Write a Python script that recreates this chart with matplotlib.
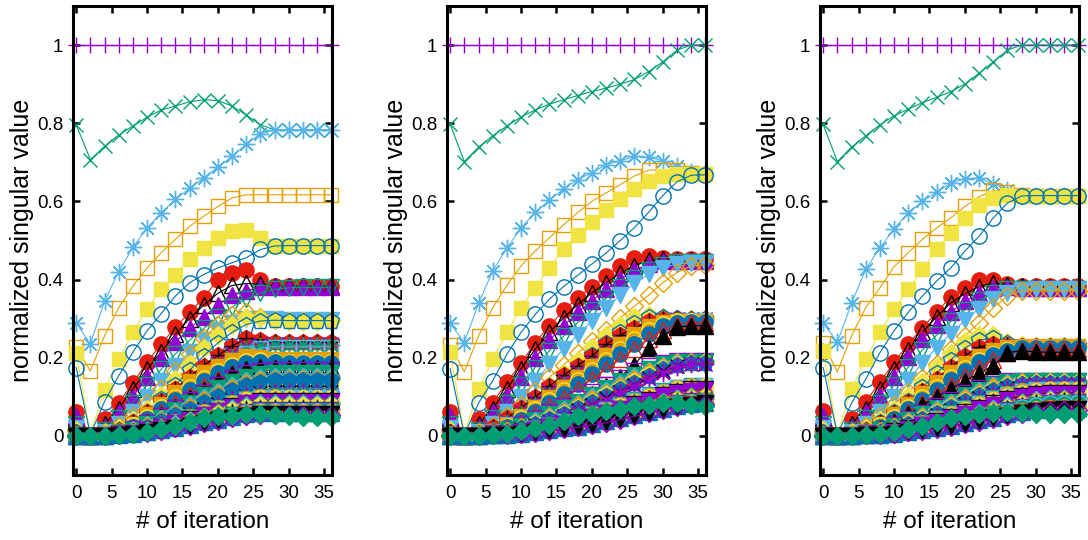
import matplotlib
matplotlib.use("Agg")
import matplotlib.pyplot as plt

plt.rcParams["font.family"] = ["Liberation Sans", "DejaVu Sans"]

# iteration index of every sample (one sample every 2 iterations)
iters = [0, 2, 4, 6, 8, 10, 12, 14, 16, 18, 20, 22, 24, 26, 28, 30, 32, 34, 36]

# normalized singular values, one row per singular value, left run
sv_left = [
    [1.0, 1.0, 1.0, 1.0, 1.0, 1.0, 1.0, 1.0, 1.0, 1.0, 1.0, 1.0, 1.0, 1.0, 1.0, 1.0, 1.0, 1.0, 1.0],
    [0.796, 0.707, 0.741, 0.770, 0.793, 0.815, 0.834, 0.844, 0.855, 0.860, 0.858, 0.844, 0.821, 0.796, 0.783, 0.783, 0.783, 0.783, 0.783],
    [0.290, 0.235, 0.345, 0.420, 0.483, 0.532, 0.571, 0.605, 0.634, 0.660, 0.688, 0.715, 0.747, 0.773, 0.783, 0.783, 0.783, 0.783, 0.783],
    [0.228, 0.166, 0.256, 0.328, 0.383, 0.430, 0.469, 0.503, 0.536, 0.562, 0.587, 0.609, 0.617, 0.617, 0.617, 0.617, 0.617, 0.617, 0.617],
    [0.212, 0.005, 0.118, 0.196, 0.265, 0.325, 0.375, 0.413, 0.452, 0.481, 0.507, 0.524, 0.528, 0.507, 0.487, 0.487, 0.487, 0.487, 0.487],
    [0.175, 0.003, 0.088, 0.154, 0.214, 0.269, 0.313, 0.358, 0.392, 0.413, 0.430, 0.443, 0.456, 0.477, 0.486, 0.487, 0.487, 0.487, 0.487],
    [0.062, 0.002, 0.043, 0.085, 0.135, 0.189, 0.235, 0.278, 0.316, 0.354, 0.400, 0.417, 0.425, 0.400, 0.384, 0.383, 0.383, 0.383, 0.383],
    [0.045, 0.001, 0.030, 0.070, 0.120, 0.170, 0.215, 0.260, 0.300, 0.335, 0.365, 0.385, 0.390, 0.388, 0.384, 0.383, 0.383, 0.383, 0.383],
    [0.050, 0.001, 0.022, 0.060, 0.100, 0.150, 0.200, 0.240, 0.275, 0.305, 0.335, 0.360, 0.372, 0.380, 0.381, 0.381, 0.381, 0.381, 0.381],
    [0.030, 0.001, 0.015, 0.045, 0.085, 0.130, 0.170, 0.210, 0.245, 0.275, 0.305, 0.330, 0.350, 0.365, 0.375, 0.379, 0.380, 0.380, 0.380],
    [0.020, 0.001, 0.010, 0.030, 0.060, 0.100, 0.140, 0.180, 0.215, 0.245, 0.270, 0.290, 0.300, 0.300, 0.298, 0.297, 0.297, 0.297, 0.297],
    [0.012, 0.0, 0.010, 0.025, 0.050, 0.085, 0.120, 0.165, 0.210, 0.250, 0.285, 0.310, 0.318, 0.305, 0.296, 0.295, 0.295, 0.295, 0.295],
    [0.015, 0.0, 0.008, 0.020, 0.042, 0.070, 0.105, 0.145, 0.185, 0.225, 0.258, 0.285, 0.305, 0.302, 0.296, 0.295, 0.295, 0.295, 0.295],
    [0.010, 0.0, 0.006, 0.016, 0.035, 0.062, 0.095, 0.130, 0.168, 0.205, 0.238, 0.265, 0.285, 0.294, 0.296, 0.295, 0.295, 0.295, 0.295],
    [0.008, 0.0, 0.006, 0.016, 0.035, 0.060, 0.090, 0.120, 0.152, 0.180, 0.206, 0.230, 0.250, 0.246, 0.241, 0.240, 0.240, 0.240, 0.240],
    [0.008, 0.0, 0.006, 0.016, 0.035, 0.060, 0.090, 0.120, 0.152, 0.180, 0.206, 0.230, 0.250, 0.246, 0.241, 0.240, 0.240, 0.240, 0.240],
    [0.006, 0.0, 0.005, 0.014, 0.030, 0.053, 0.080, 0.108, 0.137, 0.165, 0.190, 0.213, 0.230, 0.236, 0.236, 0.235, 0.235, 0.235, 0.235],
    [0.005, 0.0, 0.004, 0.012, 0.027, 0.048, 0.073, 0.100, 0.128, 0.155, 0.180, 0.203, 0.222, 0.231, 0.232, 0.232, 0.232, 0.232, 0.232],
    [0.005, 0.0, 0.004, 0.011, 0.025, 0.045, 0.068, 0.094, 0.120, 0.146, 0.170, 0.193, 0.212, 0.225, 0.228, 0.228, 0.228, 0.228, 0.228],
    [0.005, 0.0, 0.004, 0.012, 0.030, 0.055, 0.082, 0.112, 0.140, 0.163, 0.180, 0.194, 0.204, 0.201, 0.198, 0.198, 0.198, 0.198, 0.198],
    [0.004, 0.0, 0.004, 0.011, 0.027, 0.049, 0.074, 0.100, 0.125, 0.148, 0.167, 0.182, 0.192, 0.193, 0.191, 0.190, 0.190, 0.190, 0.190],
    [0.004, 0.0, 0.003, 0.010, 0.024, 0.044, 0.068, 0.093, 0.117, 0.140, 0.160, 0.176, 0.187, 0.190, 0.188, 0.187, 0.187, 0.187, 0.187],
    [0.003, 0.0, 0.003, 0.009, 0.021, 0.039, 0.060, 0.083, 0.105, 0.127, 0.146, 0.161, 0.172, 0.176, 0.175, 0.175, 0.175, 0.175, 0.175],
    [0.003, 0.0, 0.003, 0.008, 0.019, 0.035, 0.054, 0.075, 0.096, 0.118, 0.140, 0.158, 0.172, 0.176, 0.174, 0.173, 0.173, 0.173, 0.173],
    [0.003, 0.0, 0.003, 0.008, 0.018, 0.033, 0.051, 0.071, 0.091, 0.111, 0.130, 0.147, 0.160, 0.167, 0.168, 0.168, 0.168, 0.168, 0.168],
    [0.002, 0.0, 0.002, 0.007, 0.016, 0.030, 0.047, 0.066, 0.085, 0.104, 0.122, 0.138, 0.151, 0.158, 0.160, 0.160, 0.160, 0.160, 0.160],
    [0.002, 0.0, 0.002, 0.006, 0.014, 0.027, 0.043, 0.060, 0.078, 0.096, 0.113, 0.128, 0.141, 0.148, 0.150, 0.150, 0.150, 0.150, 0.150],
    [0.002, 0.0, 0.002, 0.006, 0.013, 0.025, 0.040, 0.057, 0.074, 0.091, 0.107, 0.122, 0.135, 0.143, 0.145, 0.145, 0.145, 0.145, 0.145],
    [0.002, 0.0, 0.002, 0.005, 0.012, 0.022, 0.035, 0.050, 0.066, 0.081, 0.096, 0.110, 0.121, 0.128, 0.130, 0.130, 0.130, 0.130, 0.130],
    [0.002, 0.0, 0.002, 0.005, 0.012, 0.023, 0.037, 0.053, 0.070, 0.087, 0.103, 0.118, 0.131, 0.139, 0.142, 0.142, 0.142, 0.142, 0.142],
    [0.001, 0.0, 0.001, 0.004, 0.010, 0.019, 0.030, 0.043, 0.057, 0.071, 0.084, 0.097, 0.107, 0.113, 0.115, 0.115, 0.115, 0.115, 0.115],
    [0.001, 0.0, 0.001, 0.004, 0.009, 0.018, 0.029, 0.042, 0.055, 0.068, 0.081, 0.093, 0.103, 0.109, 0.112, 0.112, 0.112, 0.112, 0.112],
    [0.001, 0.0, 0.001, 0.004, 0.009, 0.017, 0.028, 0.040, 0.053, 0.066, 0.079, 0.091, 0.101, 0.107, 0.110, 0.110, 0.110, 0.110, 0.110],
    [0.001, 0.0, 0.001, 0.003, 0.008, 0.016, 0.026, 0.038, 0.050, 0.062, 0.074, 0.086, 0.096, 0.102, 0.105, 0.105, 0.105, 0.105, 0.105],
    [0.0, 0.0, 0.001, 0.004, 0.009, 0.016, 0.025, 0.036, 0.048, 0.060, 0.072, 0.084, 0.094, 0.100, 0.100, 0.100, 0.100, 0.100, 0.100],
    [0.0, 0.0, 0.001, 0.004, 0.009, 0.016, 0.025, 0.036, 0.048, 0.060, 0.072, 0.084, 0.094, 0.100, 0.099, 0.098, 0.098, 0.098, 0.098],
    [0.0, 0.0, 0.001, 0.004, 0.009, 0.016, 0.024, 0.035, 0.047, 0.058, 0.070, 0.081, 0.091, 0.097, 0.097, 0.097, 0.097, 0.097, 0.097],
    [0.0, 0.0, 0.001, 0.004, 0.008, 0.015, 0.024, 0.034, 0.045, 0.056, 0.068, 0.079, 0.088, 0.094, 0.094, 0.094, 0.094, 0.094, 0.094],
    [0.0, 0.0, 0.001, 0.004, 0.008, 0.015, 0.023, 0.033, 0.044, 0.055, 0.066, 0.077, 0.086, 0.092, 0.092, 0.092, 0.092, 0.092, 0.092],
    [0.0, 0.0, 0.001, 0.004, 0.008, 0.014, 0.023, 0.032, 0.043, 0.054, 0.065, 0.076, 0.085, 0.090, 0.090, 0.090, 0.090, 0.090, 0.090],
    [0.0, 0.0, 0.001, 0.004, 0.008, 0.014, 0.022, 0.032, 0.042, 0.053, 0.063, 0.074, 0.083, 0.088, 0.088, 0.088, 0.088, 0.088, 0.088],
    [0.0, 0.0, 0.001, 0.003, 0.008, 0.014, 0.021, 0.031, 0.041, 0.051, 0.061, 0.071, 0.080, 0.085, 0.085, 0.085, 0.085, 0.085, 0.085],
    [0.0, 0.0, 0.001, 0.003, 0.007, 0.013, 0.021, 0.030, 0.039, 0.049, 0.059, 0.069, 0.077, 0.082, 0.082, 0.082, 0.082, 0.082, 0.082],
    [0.0, 0.0, 0.001, 0.003, 0.007, 0.013, 0.020, 0.029, 0.038, 0.048, 0.058, 0.067, 0.075, 0.080, 0.080, 0.080, 0.080, 0.080, 0.080],
    [0.0, 0.0, 0.001, 0.003, 0.007, 0.012, 0.020, 0.028, 0.037, 0.047, 0.056, 0.066, 0.073, 0.078, 0.078, 0.078, 0.078, 0.078, 0.078],
    [0.0, 0.0, 0.001, 0.003, 0.007, 0.012, 0.019, 0.027, 0.036, 0.045, 0.054, 0.063, 0.071, 0.075, 0.075, 0.075, 0.075, 0.075, 0.075],
    [0.0, 0.0, 0.001, 0.003, 0.006, 0.012, 0.018, 0.026, 0.035, 0.043, 0.052, 0.060, 0.068, 0.072, 0.072, 0.072, 0.072, 0.072, 0.072],
    [0.0, 0.0, 0.001, 0.003, 0.006, 0.011, 0.018, 0.025, 0.034, 0.042, 0.050, 0.059, 0.066, 0.070, 0.070, 0.070, 0.070, 0.070, 0.070],
    [0.0, 0.0, 0.001, 0.003, 0.006, 0.011, 0.017, 0.024, 0.033, 0.041, 0.049, 0.057, 0.064, 0.068, 0.068, 0.068, 0.068, 0.068, 0.068],
    [0.0, 0.0, 0.001, 0.003, 0.006, 0.011, 0.017, 0.024, 0.032, 0.040, 0.048, 0.055, 0.062, 0.066, 0.066, 0.066, 0.066, 0.066, 0.066],
    [0.0, 0.0, 0.001, 0.003, 0.006, 0.010, 0.016, 0.023, 0.031, 0.038, 0.046, 0.054, 0.060, 0.064, 0.064, 0.064, 0.064, 0.064, 0.064],
    [0.0, 0.0, 0.001, 0.002, 0.006, 0.010, 0.016, 0.022, 0.030, 0.037, 0.045, 0.052, 0.058, 0.062, 0.062, 0.062, 0.062, 0.062, 0.062],
    [0.0, 0.0, 0.001, 0.002, 0.005, 0.010, 0.015, 0.022, 0.029, 0.036, 0.043, 0.050, 0.056, 0.060, 0.060, 0.060, 0.060, 0.060, 0.060],
    [0.0, 0.0, 0.001, 0.002, 0.005, 0.009, 0.015, 0.021, 0.028, 0.035, 0.042, 0.049, 0.055, 0.058, 0.058, 0.058, 0.058, 0.058, 0.058],
    [0.0, 0.0, 0.001, 0.002, 0.005, 0.009, 0.014, 0.020, 0.027, 0.034, 0.040, 0.047, 0.053, 0.056, 0.056, 0.056, 0.056, 0.056, 0.056],
    [0.0, 0.0, 0.001, 0.002, 0.005, 0.009, 0.014, 0.020, 0.026, 0.033, 0.040, 0.046, 0.052, 0.055, 0.055, 0.055, 0.055, 0.055, 0.055],
    [0.0, 0.0, 0.001, 0.002, 0.005, 0.008, 0.013, 0.019, 0.025, 0.032, 0.038, 0.045, 0.050, 0.053, 0.053, 0.053, 0.053, 0.053, 0.053],
    [0.0, 0.0, 0.0, 0.002, 0.005, 0.010, 0.017, 0.025, 0.035, 0.045, 0.050, 0.052, 0.056, 0.055, 0.053, 0.050, 0.049, 0.048, 0.048],
]

# middle run
sv_mid = [
    [1.0, 1.0, 1.0, 1.0, 1.0, 1.0, 1.0, 1.0, 1.0, 1.0, 1.0, 1.0, 1.0, 1.0, 1.0, 1.0, 1.0, 1.0, 1.0],
    [0.797, 0.702, 0.739, 0.768, 0.793, 0.816, 0.834, 0.849, 0.860, 0.871, 0.881, 0.890, 0.900, 0.912, 0.932, 0.957, 0.987, 1.0, 1.0],
    [0.288, 0.239, 0.339, 0.422, 0.481, 0.532, 0.572, 0.603, 0.632, 0.656, 0.673, 0.694, 0.704, 0.715, 0.713, 0.704, 0.690, 0.675, 0.672],
    [0.232, 0.164, 0.256, 0.328, 0.385, 0.435, 0.473, 0.507, 0.540, 0.572, 0.600, 0.622, 0.643, 0.665, 0.680, 0.681, 0.680, 0.672, 0.670],
    [0.215, 0.005, 0.120, 0.196, 0.265, 0.328, 0.379, 0.430, 0.477, 0.515, 0.547, 0.577, 0.606, 0.632, 0.652, 0.665, 0.671, 0.670, 0.670],
    [0.172, 0.003, 0.084, 0.141, 0.209, 0.265, 0.311, 0.350, 0.382, 0.411, 0.440, 0.468, 0.500, 0.533, 0.572, 0.615, 0.650, 0.667, 0.668],
    [0.062, 0.002, 0.043, 0.085, 0.137, 0.186, 0.239, 0.281, 0.321, 0.354, 0.382, 0.409, 0.435, 0.456, 0.460, 0.456, 0.453, 0.452, 0.452],
    [0.045, 0.001, 0.030, 0.070, 0.120, 0.172, 0.222, 0.265, 0.302, 0.336, 0.366, 0.392, 0.416, 0.436, 0.449, 0.452, 0.451, 0.450, 0.450],
    [0.050, 0.001, 0.022, 0.060, 0.102, 0.152, 0.200, 0.245, 0.282, 0.316, 0.346, 0.375, 0.401, 0.424, 0.440, 0.447, 0.448, 0.448, 0.448],
    [0.030, 0.001, 0.015, 0.045, 0.085, 0.130, 0.175, 0.218, 0.255, 0.290, 0.322, 0.352, 0.380, 0.405, 0.425, 0.438, 0.445, 0.446, 0.446],
    [0.020, 0.001, 0.010, 0.030, 0.060, 0.100, 0.140, 0.183, 0.222, 0.258, 0.294, 0.328, 0.360, 0.390, 0.414, 0.430, 0.440, 0.443, 0.443],
    [0.012, 0.0, 0.010, 0.025, 0.050, 0.080, 0.115, 0.150, 0.182, 0.212, 0.242, 0.272, 0.302, 0.332, 0.360, 0.392, 0.418, 0.435, 0.438],
    [0.015, 0.0, 0.008, 0.020, 0.042, 0.068, 0.098, 0.130, 0.162, 0.195, 0.228, 0.258, 0.285, 0.305, 0.310, 0.305, 0.300, 0.300, 0.300],
    [0.010, 0.0, 0.006, 0.016, 0.034, 0.058, 0.085, 0.115, 0.147, 0.178, 0.208, 0.238, 0.265, 0.288, 0.303, 0.305, 0.302, 0.300, 0.300],
    [0.010, 0.0, 0.008, 0.022, 0.045, 0.072, 0.100, 0.128, 0.155, 0.180, 0.205, 0.234, 0.258, 0.276, 0.293, 0.300, 0.300, 0.300, 0.300],
    [0.010, 0.0, 0.008, 0.022, 0.045, 0.072, 0.100, 0.128, 0.155, 0.180, 0.205, 0.234, 0.258, 0.276, 0.293, 0.300, 0.300, 0.300, 0.300],
    [0.006, 0.0, 0.006, 0.018, 0.038, 0.064, 0.090, 0.116, 0.142, 0.167, 0.192, 0.218, 0.243, 0.264, 0.282, 0.294, 0.298, 0.298, 0.298],
    [0.005, 0.0, 0.005, 0.015, 0.033, 0.056, 0.080, 0.105, 0.130, 0.155, 0.180, 0.206, 0.232, 0.256, 0.276, 0.290, 0.296, 0.297, 0.297],
    [0.005, 0.0, 0.004, 0.013, 0.030, 0.051, 0.074, 0.098, 0.122, 0.147, 0.172, 0.198, 0.224, 0.250, 0.272, 0.288, 0.295, 0.296, 0.296],
    [0.005, 0.0, 0.004, 0.012, 0.028, 0.050, 0.075, 0.100, 0.126, 0.152, 0.180, 0.208, 0.236, 0.260, 0.280, 0.292, 0.295, 0.295, 0.295],
    [0.004, 0.0, 0.004, 0.011, 0.025, 0.045, 0.068, 0.092, 0.117, 0.142, 0.168, 0.195, 0.222, 0.248, 0.270, 0.286, 0.293, 0.294, 0.294],
    [0.004, 0.0, 0.003, 0.010, 0.022, 0.040, 0.061, 0.084, 0.108, 0.133, 0.158, 0.184, 0.210, 0.236, 0.260, 0.280, 0.290, 0.292, 0.292],
    [0.003, 0.0, 0.003, 0.009, 0.020, 0.036, 0.055, 0.076, 0.098, 0.121, 0.145, 0.170, 0.196, 0.222, 0.248, 0.270, 0.285, 0.290, 0.290],
    [0.003, 0.0, 0.003, 0.008, 0.016, 0.026, 0.038, 0.052, 0.068, 0.086, 0.106, 0.128, 0.152, 0.182, 0.225, 0.255, 0.278, 0.282, 0.282],
    [0.003, 0.0, 0.003, 0.007, 0.016, 0.029, 0.044, 0.060, 0.077, 0.095, 0.113, 0.131, 0.149, 0.165, 0.178, 0.187, 0.191, 0.192, 0.192],
    [0.002, 0.0, 0.002, 0.006, 0.014, 0.026, 0.040, 0.055, 0.071, 0.088, 0.105, 0.122, 0.140, 0.157, 0.172, 0.183, 0.189, 0.190, 0.190],
    [0.002, 0.0, 0.002, 0.006, 0.013, 0.024, 0.037, 0.051, 0.066, 0.082, 0.099, 0.116, 0.134, 0.151, 0.167, 0.180, 0.188, 0.190, 0.190],
    [0.002, 0.0, 0.002, 0.005, 0.012, 0.022, 0.034, 0.048, 0.062, 0.078, 0.094, 0.111, 0.128, 0.146, 0.163, 0.177, 0.186, 0.189, 0.189],
    [0.002, 0.0, 0.002, 0.005, 0.011, 0.020, 0.032, 0.045, 0.059, 0.074, 0.090, 0.106, 0.123, 0.141, 0.158, 0.173, 0.183, 0.187, 0.188],
    [0.002, 0.0, 0.002, 0.005, 0.011, 0.020, 0.031, 0.043, 0.057, 0.071, 0.086, 0.102, 0.119, 0.136, 0.154, 0.170, 0.181, 0.186, 0.187],
    [0.001, 0.0, 0.001, 0.004, 0.010, 0.018, 0.029, 0.041, 0.054, 0.068, 0.083, 0.099, 0.116, 0.133, 0.151, 0.167, 0.179, 0.185, 0.186],
    [0.001, 0.0, 0.001, 0.004, 0.009, 0.017, 0.027, 0.039, 0.052, 0.066, 0.080, 0.096, 0.113, 0.130, 0.148, 0.165, 0.178, 0.184, 0.185],
    [0.001, 0.0, 0.001, 0.004, 0.009, 0.016, 0.026, 0.037, 0.050, 0.063, 0.077, 0.093, 0.110, 0.127, 0.145, 0.162, 0.176, 0.184, 0.185],
    [0.001, 0.0, 0.001, 0.003, 0.007, 0.013, 0.020, 0.029, 0.038, 0.048, 0.059, 0.070, 0.082, 0.094, 0.106, 0.117, 0.125, 0.129, 0.130],
    [0.001, 0.0, 0.001, 0.003, 0.007, 0.012, 0.019, 0.028, 0.037, 0.047, 0.057, 0.068, 0.080, 0.092, 0.104, 0.115, 0.124, 0.128, 0.129],
    [0.0, 0.0, 0.001, 0.003, 0.006, 0.012, 0.019, 0.027, 0.036, 0.046, 0.056, 0.067, 0.078, 0.090, 0.102, 0.113, 0.122, 0.127, 0.128],
    [0.0, 0.0, 0.001, 0.003, 0.006, 0.011, 0.018, 0.026, 0.035, 0.044, 0.054, 0.065, 0.076, 0.088, 0.100, 0.111, 0.120, 0.125, 0.127],
    [0.0, 0.0, 0.001, 0.003, 0.006, 0.011, 0.017, 0.025, 0.034, 0.043, 0.053, 0.063, 0.074, 0.086, 0.098, 0.109, 0.118, 0.124, 0.126],
    [0.0, 0.0, 0.001, 0.003, 0.006, 0.011, 0.017, 0.024, 0.033, 0.042, 0.051, 0.061, 0.072, 0.084, 0.096, 0.107, 0.116, 0.122, 0.124],
    [0.0, 0.0, 0.001, 0.002, 0.005, 0.010, 0.016, 0.023, 0.031, 0.040, 0.049, 0.059, 0.070, 0.082, 0.093, 0.104, 0.113, 0.119, 0.121],
    [0.0, 0.0, 0.001, 0.002, 0.005, 0.010, 0.016, 0.023, 0.030, 0.039, 0.048, 0.058, 0.068, 0.079, 0.090, 0.101, 0.110, 0.116, 0.118],
    [0.0, 0.0, 0.001, 0.002, 0.005, 0.009, 0.014, 0.020, 0.027, 0.034, 0.042, 0.050, 0.059, 0.068, 0.078, 0.088, 0.096, 0.101, 0.103],
    [0.0, 0.0, 0.001, 0.002, 0.005, 0.009, 0.014, 0.020, 0.026, 0.033, 0.041, 0.049, 0.058, 0.067, 0.077, 0.087, 0.095, 0.100, 0.102],
    [0.0, 0.0, 0.001, 0.002, 0.004, 0.008, 0.013, 0.019, 0.025, 0.032, 0.040, 0.048, 0.057, 0.066, 0.076, 0.086, 0.094, 0.099, 0.101],
    [0.0, 0.0, 0.001, 0.002, 0.004, 0.008, 0.013, 0.018, 0.025, 0.032, 0.039, 0.047, 0.056, 0.065, 0.075, 0.085, 0.093, 0.098, 0.100],
    [0.0, 0.0, 0.001, 0.002, 0.004, 0.008, 0.012, 0.018, 0.024, 0.031, 0.038, 0.046, 0.055, 0.064, 0.074, 0.084, 0.092, 0.097, 0.099],
    [0.0, 0.0, 0.001, 0.002, 0.004, 0.008, 0.012, 0.017, 0.023, 0.030, 0.037, 0.045, 0.053, 0.062, 0.072, 0.082, 0.090, 0.095, 0.097],
    [0.0, 0.0, 0.001, 0.002, 0.004, 0.007, 0.011, 0.017, 0.023, 0.029, 0.036, 0.044, 0.052, 0.061, 0.070, 0.080, 0.088, 0.093, 0.095],
    [0.0, 0.0, 0.001, 0.002, 0.004, 0.007, 0.011, 0.016, 0.022, 0.028, 0.035, 0.043, 0.051, 0.060, 0.069, 0.078, 0.086, 0.091, 0.093],
    [0.0, 0.0, 0.001, 0.002, 0.004, 0.007, 0.011, 0.016, 0.021, 0.027, 0.034, 0.042, 0.050, 0.059, 0.068, 0.077, 0.085, 0.090, 0.092],
    [0.0, 0.0, 0.001, 0.002, 0.004, 0.007, 0.010, 0.015, 0.021, 0.027, 0.033, 0.041, 0.049, 0.057, 0.066, 0.075, 0.083, 0.088, 0.090],
    [0.0, 0.0, 0.001, 0.002, 0.004, 0.006, 0.010, 0.015, 0.020, 0.026, 0.032, 0.039, 0.047, 0.055, 0.064, 0.073, 0.080, 0.085, 0.087],
    [0.0, 0.0, 0.001, 0.002, 0.003, 0.006, 0.010, 0.014, 0.019, 0.025, 0.031, 0.038, 0.046, 0.054, 0.063, 0.071, 0.079, 0.084, 0.086],
    [0.0, 0.0, 0.001, 0.002, 0.003, 0.006, 0.009, 0.014, 0.019, 0.024, 0.030, 0.037, 0.045, 0.053, 0.061, 0.070, 0.077, 0.082, 0.085],
    [0.0, 0.0, 0.001, 0.002, 0.003, 0.006, 0.009, 0.013, 0.018, 0.024, 0.030, 0.036, 0.044, 0.052, 0.060, 0.068, 0.076, 0.081, 0.084],
    [0.0, 0.0, 0.001, 0.002, 0.003, 0.006, 0.009, 0.013, 0.018, 0.023, 0.029, 0.035, 0.043, 0.051, 0.059, 0.067, 0.075, 0.080, 0.083],
    [0.0, 0.0, 0.001, 0.002, 0.003, 0.005, 0.008, 0.012, 0.017, 0.022, 0.028, 0.034, 0.042, 0.050, 0.058, 0.066, 0.073, 0.078, 0.081],
    [0.0, 0.0, 0.0, 0.002, 0.006, 0.012, 0.020, 0.028, 0.038, 0.050, 0.057, 0.064, 0.070, 0.076, 0.080, 0.085, 0.084, 0.080, 0.077],
]

# right run
sv_right = [
    [1.0, 1.0, 1.0, 1.0, 1.0, 1.0, 1.0, 1.0, 1.0, 1.0, 1.0, 1.0, 1.0, 1.0, 1.0, 1.0, 1.0, 1.0, 1.0],
    [0.797, 0.702, 0.739, 0.768, 0.796, 0.819, 0.836, 0.853, 0.866, 0.881, 0.900, 0.928, 0.957, 0.987, 1.0, 1.0, 1.0, 1.0, 1.0],
    [0.288, 0.240, 0.339, 0.426, 0.481, 0.530, 0.571, 0.600, 0.624, 0.647, 0.658, 0.660, 0.645, 0.630, 0.615, 0.614, 0.614, 0.614, 0.614],
    [0.237, 0.164, 0.256, 0.328, 0.379, 0.433, 0.469, 0.503, 0.532, 0.558, 0.587, 0.612, 0.628, 0.624, 0.616, 0.615, 0.615, 0.615, 0.615],
    [0.218, 0.005, 0.120, 0.196, 0.265, 0.324, 0.375, 0.426, 0.477, 0.520, 0.558, 0.590, 0.609, 0.616, 0.614, 0.613, 0.613, 0.613, 0.613],
    [0.175, 0.003, 0.084, 0.145, 0.213, 0.269, 0.316, 0.358, 0.396, 0.430, 0.473, 0.511, 0.558, 0.596, 0.614, 0.615, 0.615, 0.615, 0.615],
    [0.065, 0.002, 0.043, 0.088, 0.137, 0.188, 0.235, 0.277, 0.316, 0.356, 0.379, 0.398, 0.400, 0.388, 0.384, 0.383, 0.383, 0.383, 0.383],
    [0.045, 0.001, 0.030, 0.070, 0.120, 0.172, 0.220, 0.265, 0.305, 0.340, 0.364, 0.382, 0.392, 0.386, 0.383, 0.382, 0.382, 0.382, 0.382],
    [0.050, 0.001, 0.022, 0.060, 0.102, 0.152, 0.202, 0.247, 0.285, 0.317, 0.344, 0.365, 0.379, 0.380, 0.378, 0.378, 0.378, 0.378, 0.378],
    [0.030, 0.001, 0.015, 0.045, 0.085, 0.130, 0.176, 0.220, 0.258, 0.293, 0.322, 0.347, 0.365, 0.375, 0.377, 0.377, 0.377, 0.377, 0.377],
    [0.020, 0.001, 0.010, 0.030, 0.060, 0.100, 0.143, 0.186, 0.226, 0.262, 0.296, 0.326, 0.350, 0.366, 0.373, 0.375, 0.375, 0.375, 0.375],
    [0.012, 0.0, 0.010, 0.025, 0.050, 0.080, 0.112, 0.148, 0.185, 0.222, 0.256, 0.290, 0.328, 0.358, 0.371, 0.372, 0.372, 0.372, 0.372],
    [0.015, 0.0, 0.008, 0.020, 0.042, 0.070, 0.102, 0.138, 0.176, 0.212, 0.242, 0.258, 0.258, 0.240, 0.232, 0.230, 0.230, 0.230, 0.230],
    [0.010, 0.0, 0.006, 0.016, 0.035, 0.060, 0.090, 0.124, 0.160, 0.195, 0.225, 0.245, 0.250, 0.238, 0.231, 0.230, 0.230, 0.230, 0.230],
    [0.008, 0.0, 0.006, 0.016, 0.034, 0.058, 0.086, 0.116, 0.146, 0.176, 0.205, 0.228, 0.236, 0.232, 0.230, 0.229, 0.229, 0.229, 0.229],
    [0.008, 0.0, 0.006, 0.016, 0.034, 0.058, 0.086, 0.116, 0.146, 0.176, 0.205, 0.228, 0.236, 0.232, 0.230, 0.229, 0.229, 0.229, 0.229],
    [0.006, 0.0, 0.005, 0.014, 0.030, 0.053, 0.080, 0.108, 0.137, 0.165, 0.190, 0.210, 0.224, 0.228, 0.228, 0.228, 0.228, 0.228, 0.228],
    [0.005, 0.0, 0.004, 0.012, 0.027, 0.048, 0.073, 0.100, 0.128, 0.155, 0.180, 0.201, 0.217, 0.225, 0.227, 0.227, 0.227, 0.227, 0.227],
    [0.005, 0.0, 0.004, 0.011, 0.025, 0.045, 0.069, 0.095, 0.122, 0.148, 0.173, 0.196, 0.214, 0.224, 0.227, 0.227, 0.227, 0.227, 0.227],
    [0.005, 0.0, 0.004, 0.012, 0.030, 0.055, 0.082, 0.110, 0.138, 0.163, 0.186, 0.205, 0.220, 0.228, 0.230, 0.230, 0.230, 0.230, 0.230],
    [0.004, 0.0, 0.004, 0.011, 0.027, 0.049, 0.074, 0.100, 0.125, 0.150, 0.173, 0.194, 0.210, 0.221, 0.225, 0.226, 0.226, 0.226, 0.226],
    [0.004, 0.0, 0.003, 0.010, 0.024, 0.044, 0.068, 0.093, 0.118, 0.143, 0.166, 0.188, 0.206, 0.218, 0.224, 0.225, 0.225, 0.225, 0.225],
    [0.003, 0.0, 0.003, 0.009, 0.021, 0.039, 0.060, 0.083, 0.106, 0.130, 0.153, 0.175, 0.195, 0.211, 0.220, 0.222, 0.222, 0.222, 0.222],
    [0.003, 0.0, 0.003, 0.008, 0.018, 0.035, 0.055, 0.078, 0.100, 0.120, 0.140, 0.160, 0.179, 0.213, 0.218, 0.215, 0.214, 0.214, 0.214],
    [0.003, 0.0, 0.003, 0.007, 0.016, 0.028, 0.043, 0.059, 0.076, 0.093, 0.109, 0.123, 0.134, 0.140, 0.141, 0.141, 0.141, 0.141, 0.141],
    [0.002, 0.0, 0.002, 0.006, 0.014, 0.026, 0.040, 0.055, 0.071, 0.088, 0.104, 0.118, 0.130, 0.137, 0.140, 0.140, 0.140, 0.140, 0.140],
    [0.002, 0.0, 0.002, 0.006, 0.013, 0.024, 0.037, 0.052, 0.068, 0.084, 0.100, 0.115, 0.127, 0.135, 0.139, 0.139, 0.139, 0.139, 0.139],
    [0.002, 0.0, 0.002, 0.005, 0.012, 0.022, 0.035, 0.049, 0.064, 0.080, 0.096, 0.111, 0.124, 0.133, 0.138, 0.138, 0.138, 0.138, 0.138],
    [0.002, 0.0, 0.002, 0.005, 0.011, 0.021, 0.033, 0.047, 0.061, 0.077, 0.093, 0.108, 0.121, 0.131, 0.136, 0.137, 0.137, 0.137, 0.137],
    [0.002, 0.0, 0.002, 0.005, 0.011, 0.020, 0.031, 0.044, 0.058, 0.073, 0.089, 0.104, 0.118, 0.128, 0.134, 0.136, 0.136, 0.136, 0.136],
    [0.001, 0.0, 0.001, 0.004, 0.010, 0.018, 0.029, 0.042, 0.056, 0.070, 0.086, 0.101, 0.115, 0.126, 0.133, 0.135, 0.135, 0.135, 0.135],
    [0.001, 0.0, 0.001, 0.004, 0.009, 0.017, 0.028, 0.040, 0.053, 0.067, 0.082, 0.097, 0.111, 0.123, 0.131, 0.134, 0.134, 0.134, 0.134],
    [0.001, 0.0, 0.001, 0.004, 0.009, 0.016, 0.026, 0.038, 0.051, 0.065, 0.079, 0.094, 0.108, 0.120, 0.129, 0.133, 0.133, 0.133, 0.133],
    [0.001, 0.0, 0.001, 0.003, 0.008, 0.015, 0.024, 0.035, 0.047, 0.060, 0.073, 0.086, 0.099, 0.110, 0.118, 0.121, 0.121, 0.121, 0.121],
    [0.0, 0.0, 0.001, 0.003, 0.008, 0.014, 0.023, 0.034, 0.046, 0.058, 0.071, 0.084, 0.097, 0.108, 0.116, 0.120, 0.120, 0.120, 0.120],
    [0.0, 0.0, 0.001, 0.003, 0.007, 0.014, 0.022, 0.033, 0.044, 0.056, 0.069, 0.082, 0.095, 0.106, 0.114, 0.118, 0.119, 0.119, 0.119],
    [0.0, 0.0, 0.001, 0.003, 0.007, 0.013, 0.021, 0.031, 0.042, 0.054, 0.066, 0.079, 0.092, 0.103, 0.111, 0.116, 0.117, 0.117, 0.117],
    [0.0, 0.0, 0.001, 0.003, 0.007, 0.013, 0.021, 0.030, 0.041, 0.052, 0.064, 0.077, 0.089, 0.100, 0.108, 0.113, 0.115, 0.115, 0.115],
    [0.0, 0.0, 0.001, 0.003, 0.006, 0.012, 0.020, 0.029, 0.039, 0.050, 0.062, 0.074, 0.086, 0.097, 0.105, 0.110, 0.112, 0.112, 0.112],
    [0.0, 0.0, 0.001, 0.003, 0.006, 0.012, 0.019, 0.028, 0.038, 0.048, 0.060, 0.071, 0.083, 0.094, 0.102, 0.107, 0.110, 0.110, 0.110],
    [0.0, 0.0, 0.001, 0.002, 0.006, 0.011, 0.018, 0.027, 0.036, 0.046, 0.057, 0.068, 0.080, 0.091, 0.099, 0.105, 0.108, 0.108, 0.108],
    [0.0, 0.0, 0.001, 0.002, 0.005, 0.010, 0.016, 0.023, 0.031, 0.040, 0.049, 0.059, 0.069, 0.079, 0.087, 0.092, 0.095, 0.096, 0.096],
    [0.0, 0.0, 0.001, 0.002, 0.005, 0.010, 0.015, 0.022, 0.030, 0.039, 0.048, 0.058, 0.068, 0.077, 0.085, 0.091, 0.094, 0.095, 0.095],
    [0.0, 0.0, 0.001, 0.002, 0.005, 0.009, 0.015, 0.021, 0.029, 0.038, 0.047, 0.056, 0.066, 0.075, 0.083, 0.089, 0.092, 0.094, 0.094],
    [0.0, 0.0, 0.001, 0.002, 0.005, 0.009, 0.014, 0.021, 0.028, 0.037, 0.046, 0.055, 0.064, 0.074, 0.082, 0.088, 0.091, 0.093, 0.093],
    [0.0, 0.0, 0.001, 0.002, 0.004, 0.009, 0.014, 0.020, 0.028, 0.036, 0.045, 0.054, 0.063, 0.072, 0.080, 0.086, 0.090, 0.092, 0.092],
    [0.0, 0.0, 0.001, 0.002, 0.004, 0.008, 0.013, 0.020, 0.027, 0.035, 0.043, 0.052, 0.061, 0.070, 0.078, 0.084, 0.088, 0.090, 0.091],
    [0.0, 0.0, 0.001, 0.002, 0.004, 0.008, 0.013, 0.019, 0.026, 0.034, 0.042, 0.051, 0.060, 0.069, 0.077, 0.083, 0.087, 0.089, 0.090],
    [0.0, 0.0, 0.001, 0.002, 0.004, 0.008, 0.013, 0.019, 0.026, 0.033, 0.041, 0.050, 0.059, 0.068, 0.076, 0.082, 0.086, 0.088, 0.089],
    [0.0, 0.0, 0.001, 0.002, 0.004, 0.008, 0.012, 0.018, 0.025, 0.032, 0.040, 0.049, 0.058, 0.067, 0.075, 0.081, 0.085, 0.087, 0.088],
    [0.0, 0.0, 0.001, 0.002, 0.004, 0.007, 0.012, 0.018, 0.024, 0.031, 0.039, 0.047, 0.056, 0.065, 0.073, 0.079, 0.083, 0.085, 0.086],
    [0.0, 0.0, 0.001, 0.002, 0.004, 0.007, 0.011, 0.016, 0.022, 0.028, 0.035, 0.042, 0.050, 0.058, 0.064, 0.069, 0.072, 0.073, 0.073],
    [0.0, 0.0, 0.001, 0.002, 0.003, 0.006, 0.010, 0.015, 0.021, 0.027, 0.034, 0.041, 0.049, 0.056, 0.063, 0.068, 0.071, 0.072, 0.072],
    [0.0, 0.0, 0.001, 0.002, 0.003, 0.006, 0.010, 0.015, 0.020, 0.026, 0.033, 0.040, 0.047, 0.055, 0.061, 0.066, 0.069, 0.071, 0.071],
    [0.0, 0.0, 0.001, 0.002, 0.003, 0.006, 0.010, 0.014, 0.020, 0.026, 0.032, 0.039, 0.046, 0.053, 0.060, 0.065, 0.068, 0.070, 0.070],
    [0.0, 0.0, 0.001, 0.002, 0.003, 0.006, 0.009, 0.014, 0.019, 0.025, 0.031, 0.038, 0.045, 0.052, 0.058, 0.063, 0.066, 0.068, 0.069],
    [0.0, 0.0, 0.001, 0.002, 0.003, 0.005, 0.009, 0.013, 0.018, 0.024, 0.030, 0.036, 0.043, 0.050, 0.056, 0.061, 0.064, 0.066, 0.067],
    [0.0, 0.0, 0.0, 0.002, 0.005, 0.010, 0.018, 0.026, 0.036, 0.045, 0.050, 0.055, 0.059, 0.060, 0.058, 0.057, 0.056, 0.056, 0.056],
]

xticks = [0, 5, 10, 15, 20, 25, 30, 35]
yticks = [0, 0.2, 0.4, 0.6, 0.8, 1.0]
ytick_labels = ["0", "0.2", "0.4", "0.6", "0.8", "1"]

# gnuplot-like line colours and point types, cycled per series
line_colors = ["#9400d3", "#009e73", "#56b4e9", "#e69f00",
               "#f0e442", "#0072b2", "#e51e10", "#000000"]
point_types = [
    ("+", False, 11.5), ("x", False, 10.5), ((8, 2, 0), False, 12.5),
    ("s", False, 10.5), ("s", True, 10.5), ("o", False, 11), ("o", True, 11),
    ("^", False, 12), ("^", True, 12), ("v", False, 12), ("v", True, 12),
    ("D", False, 9), ("D", True, 9), ("p", False, 12), ("p", True, 12),
]

W, H = 1088, 540
fig = plt.figure(figsize=(W / 100, H / 100), dpi=100)
panel_left = [73, 447, 820]

for left, rows in zip(panel_left, [sv_left, sv_mid, sv_right]):
    ax = fig.add_axes([left / W, 65 / H, 259 / W, 469 / H])
    for i, vals in enumerate(rows):
        c = line_colors[i % len(line_colors)]
        m, filled, ms = point_types[i % len(point_types)]
        ax.plot(iters, vals, color=c, lw=0.8, marker=m, ms=ms,
                mfc=c if filled else "none", mec=c, mew=1.0, clip_on=False)
    ax.set_xlim(-0.45, 36.1)
    ax.set_ylim(-0.1, 1.1)
    ax.set_xticks(xticks)
    ax.set_yticks(yticks)
    ax.set_yticklabels(ytick_labels)
    ax.tick_params(direction="in", top=True, right=True, length=5, width=1.8,
                   labelsize=13.5, pad=7)
    for sp in ax.spines.values():
        sp.set_linewidth(2.2)
    ax.set_xlabel("# of iteration", fontsize=17.5, labelpad=7)
    ax.set_ylabel("normalized singular value", fontsize=18, labelpad=2)

fig.savefig("out.png", dpi=100)
